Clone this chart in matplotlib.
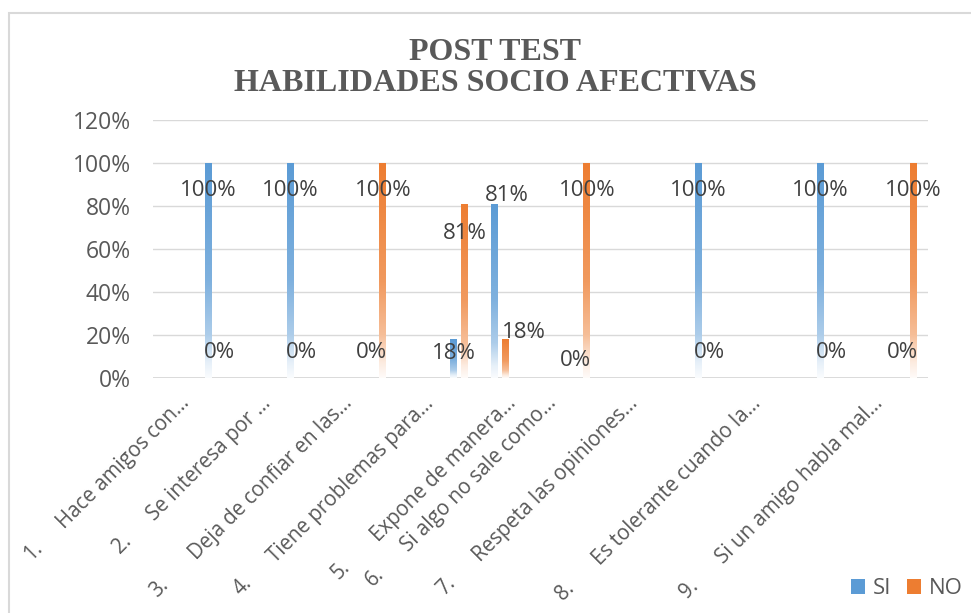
import numpy as np
import matplotlib
matplotlib.use("Agg")
import matplotlib.pyplot as plt
from matplotlib.patches import Rectangle, Patch

# ── data (19 rows as in the source sheet, blank rows kept) ──────────────
categories = ["", "1.\tHace amigos con…", "", "2.\tSe interesa por …", "",
              "3.\tDeja de confiar en las…", "", "4.\tTiene problemas para…", "",
              "5.\tExpone de manera…", "6.\tSi algo no sale como…", "",
              "7.\tRespeta las opiniones…", "", "", "8.\tEs tolerante cuando la…",
              "", "", "9.\tSi un amigo habla mal…"]
nan = np.nan
si = [nan, 1.00, nan, 1.00, nan, 0.00, nan, 0.18, 0.81, nan,
      0.00, nan, nan, 1.00, nan, nan, 1.00, nan, 0.00]
no = [nan, 0.00, nan, 0.00, nan, 1.00, nan, 0.81, 0.18, nan,
      1.00, nan, nan, 0.00, nan, nan, 0.00, nan, 1.00]
yticks = [0, 0.2, 0.4, 0.6, 0.8, 1.0, 1.2]

# ── style ───────────────────────────────────────────────────────────────
C_SI = "#5B9BD5"
C_NO = "#ED7D31"
C_TXT = "#595959"
C_LBL = "#404040"
C_GRID = "#D9D9D9"
FONT = "Open Sans"
PX = 0.72  # points per pixel at dpi 100
FS = 16.0

fig = plt.figure(figsize=(9.71, 6.13), dpi=100)
fig.patch.set_facecolor("white")
ax = fig.add_axes([153 / 971, 1 - 378 / 613, 775 / 971, 258 / 613])

# chart-area border (only top/left visible in the crop)
fig.add_artist(Rectangle((9 / 971, -0.1), 1.2, 1.1 - 13 / 613,
                         transform=fig.transFigure, fill=False,
                         edgecolor="#D9D9D9", lw=1.5))

x = np.arange(len(categories))
off, bw = 0.135, 0.167


def gradient_bars(bars, color):
    rgb = np.array(matplotlib.colors.to_rgb(color))
    t = np.linspace(0, 1, 256)
    w = np.interp(t, [0, 0.55, 0.8, 0.93, 1.0], [0.0, 0.22, 0.5, 0.85, 0.97])
    img = rgb[None, :] * (1 - w[:, None]) + w[:, None]
    img = img[:, None, :]
    for b in bars:
        h = b.get_height()
        if not np.isfinite(h) or h <= 0:
            continue
        b.set_facecolor("none")
        b.set_edgecolor("none")
        x0 = b.get_x()
        im = ax.imshow(img, extent=(x0, x0 + b.get_width(), 0, h),
                       aspect="auto", origin="upper", zorder=2)
        im.set_clip_path(b)


bars_si = ax.bar(x - off, si, bw, color=C_SI, zorder=2)
bars_no = ax.bar(x + off, no, bw, color=C_NO, zorder=2)
gradient_bars(bars_si, C_SI)
gradient_bars(bars_no, C_NO)

ax.set_xlim(-0.5, len(categories) - 0.5)
ax.set_ylim(0, 1.2)
ax.set_yticks(yticks)
ax.set_yticklabels([f"{int(round(v * 100))}%" for v in yticks],
                   fontsize=FS + 0.5, color=C_TXT, family=FONT)
ax.tick_params(axis="y", length=0, pad=16)
ax.set_xticks([])
ax.grid(axis="y", color=C_GRID, lw=1.0, zorder=0)
ax.set_axisbelow(True)
for s in ax.spines.values():
    s.set_visible(False)
ax.axhline(0, color=C_GRID, lw=1.3, zorder=1)

# ── data labels (Excel-like placement) ──────────────────────────────────
def label_pos(v, series, i):
    if v >= 0.99:
        return v - 0.13, 0
    if v <= 0.001:
        return (0.08 if i == 10 else 0.12), 0
    if series == "si":
        return (0.116, 0) if v < 0.5 else (0.85, 13)
    return (0.67, 0) if v > 0.5 else (0.21, 19)


for series, vals, dx in (("si", si, -off), ("no", no, off)):
    for i, v in enumerate(vals):
        if not np.isfinite(v):
            continue
        y, px = label_pos(v, series, i)
        ax.annotate(f"{int(round(v * 100))}%", xy=(i + dx, y),
                    xytext=(px * PX, 0), textcoords="offset points",
                    ha="center", va="center", fontsize=FS,
                    color=C_LBL, family=FONT, zorder=5)

# ── category labels, rotated 45°, list number set apart ─────────────────
num_dist = [216, 206, 268, 266, 243, 252, 266, 272, 269]  # px along the line
k = 0
for i, lab in enumerate(categories):
    if not lab:
        continue
    num, text = lab.split("\t")
    ax0 = (-24 * PX, -26 * PX)
    ax.annotate(text, xy=(i, 0), xycoords=ax.get_xaxis_transform(),
                xytext=ax0, textcoords="offset points", rotation=45,
                rotation_mode="anchor", ha="right", va="baseline",
                fontsize=14.8, color=C_TXT, family=FONT)
    d = num_dist[k] * 0.7071
    ax.annotate(num, xy=(i, 0), xycoords=ax.get_xaxis_transform(),
                xytext=(ax0[0] - d * PX - 3, ax0[1] - d * PX + 4),
                textcoords="offset points", rotation=45,
                rotation_mode="anchor", ha="center", va="center",
                fontsize=14.8, color=C_TXT, family=FONT)
    k += 1

# ── title ────────────────────────────────────────────────────────────────
fig.text(495 / 971, 1 - 68 / 613, "POST TEST\nHABILIDADES SOCIO AFECTIVAS",
         ha="center", va="center", fontsize=23, fontweight="bold",
         family="Liberation Serif", color=C_TXT, linespacing=1.12)

# ── legend ───────────────────────────────────────────────────────────────
handles = [Patch(facecolor=C_SI, edgecolor="none", label="SI"),
           Patch(facecolor=C_NO, edgecolor="none", label="NO")]
fig.legend(handles=handles, loc="center right",
           bbox_to_anchor=(963 / 971, 1 - 589 / 613), ncol=2, frameon=False,
           prop={"family": FONT, "size": FS}, labelcolor=C_TXT,
           handlelength=0.65, handleheight=0.65, handletextpad=0.35,
           columnspacing=0.7, borderaxespad=0, borderpad=0)

fig.savefig("out.png", dpi=100, facecolor="white")
